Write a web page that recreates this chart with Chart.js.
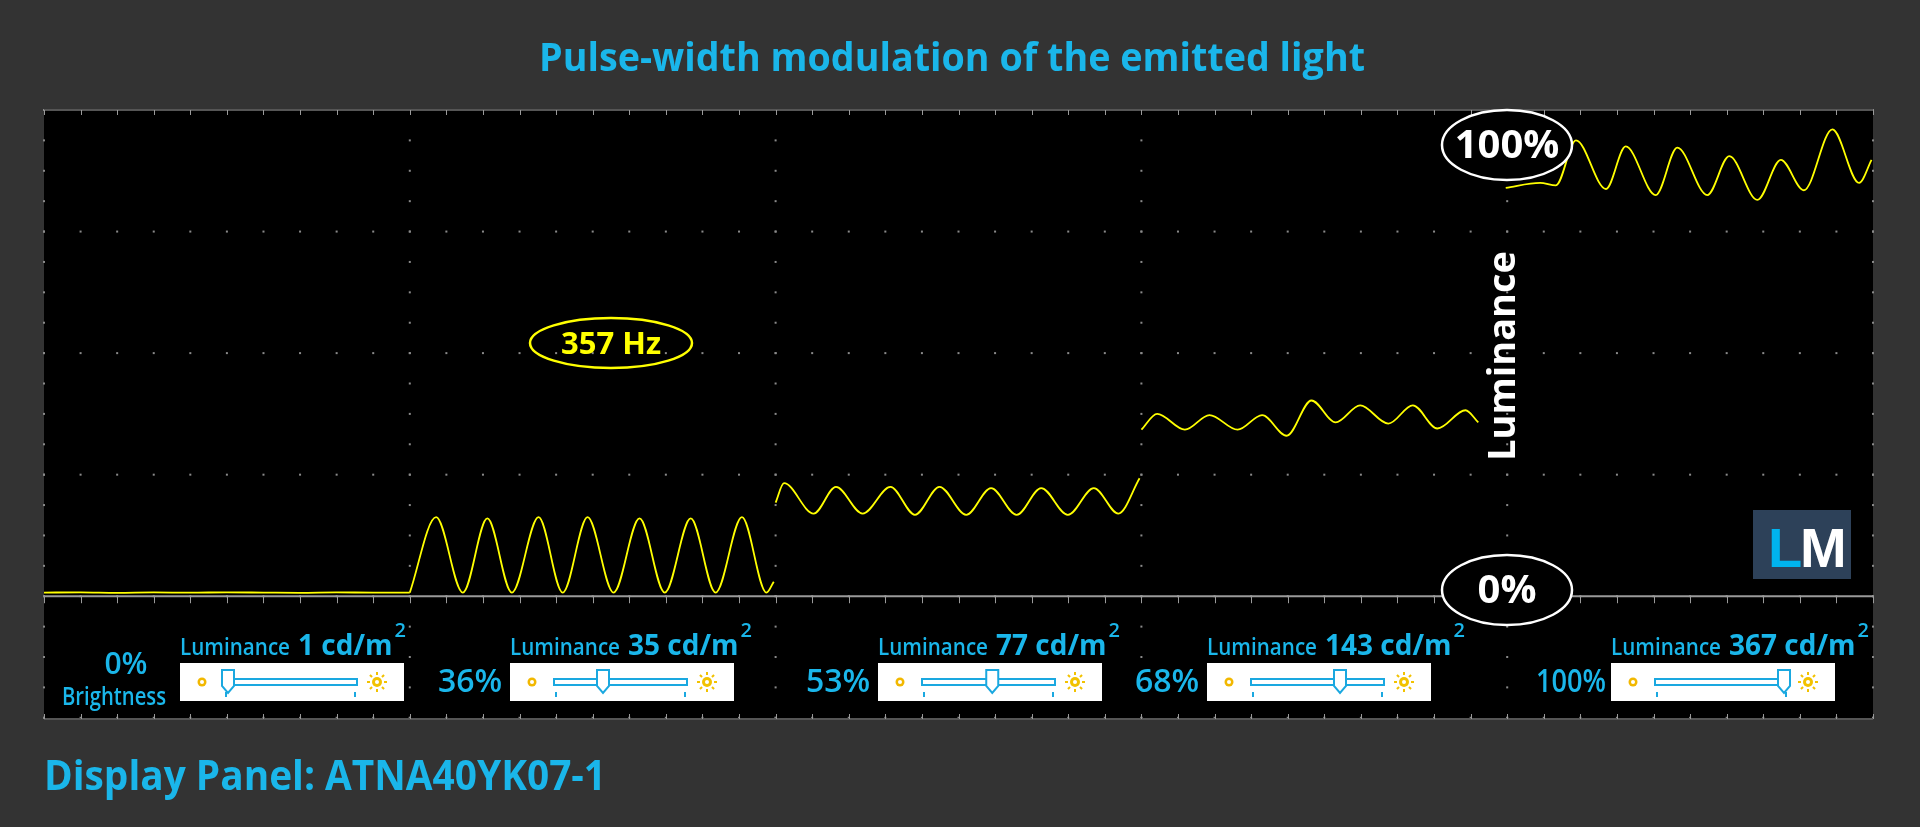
<!DOCTYPE html>
<html><head><meta charset="utf-8">
<script src="https://cdn.jsdelivr.net/npm/chart.js@4.4.1/dist/chart.umd.min.js"></script>
<style>html,body{margin:0;padding:0;background:#333333;}canvas{display:block;}</style>
</head><body>
<div style="width:1920px;height:827px;position:relative"><canvas id="c" width="1920" height="827"></canvas></div>
<script>
// ---- data (x in horizontal divisions, y in vertical divisions; 0 = 0% luminance) ----
const seg1 = [[0,0.03],[0.1,0.032],[0.2,0.028],[0.3,0.031],[0.4,0.029],[0.5,0.032],[0.6,0.03],[0.7,0.028],[0.8,0.031],[0.9,0.03],[1.0,0.03]];
const seg2 = [[1.0,0.03],[1.072,0.65],[1.145,0.03],[1.212,0.64],[1.279,0.03],[1.352,0.65],[1.418,0.03],[1.486,0.65],[1.557,0.03],[1.628,0.64],[1.697,0.03],[1.768,0.64],[1.836,0.03],[1.908,0.65],[1.975,0.03],[1.995,0.12]];
const seg3 = [[2.0,0.77],[2.023,0.93],[2.104,0.68],[2.165,0.90],[2.238,0.68],[2.314,0.90],[2.381,0.67],[2.448,0.90],[2.521,0.67],[2.589,0.89],[2.659,0.67],[2.726,0.89],[2.799,0.67],[2.870,0.89],[2.937,0.68],[2.995,0.97]];
const seg4 = [[3.0,1.37],[3.043,1.50],[3.119,1.37],[3.186,1.49],[3.263,1.37],[3.330,1.49],[3.397,1.32],[3.465,1.61],[3.531,1.43],[3.598,1.57],[3.675,1.42],[3.742,1.57],[3.809,1.38],[3.886,1.53],[3.921,1.43]];
const seg5 = [[3.996,3.36],[4.09,3.40],[4.133,3.38],[4.188,3.75],[4.27,3.35],[4.324,3.70],[4.406,3.30],[4.465,3.69],[4.547,3.30],[4.607,3.62],[4.684,3.26],[4.748,3.59],[4.811,3.34],[4.889,3.84],[4.962,3.40],[4.996,3.59]];
const brightnessLabels = ['0%','36%','53%','68%','100%'];
const luminanceValues = ['1','35','77','143','367'];
const sliderFractions = [0,0.36,0.53,0.68,1.0];
const freqLabel = '357 Hz';
const titleText = 'Pulse-width modulation of the emitted light';
const panelText = 'Display Panel: ATNA40YK07-1';

const CYAN = '#1ab6ea', YEL = '#ffff00';
const FONT = '"Open Sans", "Noto Sans", sans-serif';

function ds(arr){return {data:arr.map(p=>({x:p[0],y:p[1]})),borderColor:YEL,borderWidth:1.8,pointRadius:0,cubicInterpolationMode:'monotone',fill:false};}

const bgPlugin = {
  id:'bg',
  beforeDraw(chart){
    const {ctx, chartArea:a, scales:{x,y}} = chart;
    ctx.save();
    ctx.fillStyle='#333333'; ctx.fillRect(0,0,chart.width,chart.height);
    ctx.fillStyle='#000'; ctx.fillRect(a.left,a.top,a.right-a.left,a.bottom-a.top);
    ctx.fillStyle='#8a8a8a';
    for(let i=0;i<=5;i++){ const px=x.getPixelForValue(i);
      for(let v=-1;v<=4.001;v+=0.25){ const py=y.getPixelForValue(v); if(py>=a.top&&py<=a.bottom) ctx.fillRect(px-1,py-1,2,2);} }
    for(let j=-1;j<=4;j++){ const py=y.getPixelForValue(j);
      for(let u=0;u<=5.001;u+=0.1){ ctx.fillRect(x.getPixelForValue(u)-1,py-1,2,2);} }
    const y0=y.getPixelForValue(0);
    ctx.strokeStyle='#9a9a9a'; ctx.lineWidth=2;
    ctx.beginPath(); ctx.moveTo(a.left,y0); ctx.lineTo(a.right,y0); ctx.stroke();
    ctx.strokeStyle='#555';
    ctx.beginPath(); ctx.moveTo(a.left,a.bottom); ctx.lineTo(a.right,a.bottom); ctx.stroke();
    ctx.beginPath(); ctx.moveTo(a.left,a.top); ctx.lineTo(a.right,a.top); ctx.stroke();
    ctx.strokeStyle='#9a9a9a'; ctx.lineWidth=1;
    for(let u=0;u<=5.001;u+=0.1){ const px=Math.round(x.getPixelForValue(u))+0.5;
      ctx.beginPath(); ctx.moveTo(px,y0); ctx.lineTo(px,y0+7); ctx.stroke();
      ctx.beginPath(); ctx.moveTo(px,a.top); ctx.lineTo(px,a.top+5); ctx.stroke();
      ctx.beginPath(); ctx.moveTo(px,a.bottom); ctx.lineTo(px,a.bottom-5); ctx.stroke(); }
    ctx.restore();
  },
  afterDraw(chart){
    const {ctx} = chart;
    ctx.save();
    ctx.fillStyle=CYAN; ctx.textAlign='center'; ctx.textBaseline='middle';
    ctx.font='bold 40px '+FONT; ctx.fillText(titleText,952,60,826);
    function ell(cx,cy,rx,ry,stroke,text,color,font,fillBlack){
      ctx.beginPath(); ctx.ellipse(cx,cy,rx,ry,0,0,Math.PI*2);
      if(fillBlack){ctx.fillStyle='#000';ctx.fill();}
      ctx.strokeStyle=stroke; ctx.lineWidth=2.5; ctx.stroke();
      ctx.fillStyle=color; ctx.font=font; ctx.textAlign='center'; ctx.textBaseline='middle'; ctx.fillText(text,cx,cy+2);
    }
    ell(611,343,81,25,YEL,freqLabel,YEL,'bold 31px '+FONT,false);
    ell(1507,145,65,35,'#fff','100%','#fff','bold 40px '+FONT,true);
    ell(1507,590,65,35,'#fff','0%','#fff','bold 40px '+FONT,true);
    ctx.save(); ctx.translate(1504,356); ctx.rotate(-Math.PI/2);
    ctx.fillStyle='#fff'; ctx.font='bold 38px '+FONT; ctx.textAlign='center'; ctx.textBaseline='middle';
    ctx.fillText('Luminance',0,0,210); ctx.restore();
    ctx.fillStyle='#2d4159'; ctx.fillRect(1753,510,98,69);
    ctx.font='bold 56px "Liberation Sans", Arial, sans-serif'; ctx.textAlign='left'; ctx.textBaseline='alphabetic';
    ctx.fillStyle='#00b4ef'; ctx.fillText('L',1768,567);
    ctx.fillStyle='#fff'; ctx.fillText('M',1800,567);
    const boxL=[180,510,878,1207,1611], bw=224, by=663, bh=38, cy=by+19;
    for(let i=0;i<5;i++){
      const bx=boxL[i];
      ctx.fillStyle='#fff'; ctx.fillRect(bx,by,bw,bh);
      ctx.fillStyle='#f2b800'; ctx.beginPath(); ctx.arc(bx+22,cy,4.5,0,Math.PI*2); ctx.fill();
      ctx.fillStyle='#fff'; ctx.beginPath(); ctx.arc(bx+22,cy,2,0,Math.PI*2); ctx.fill();
      const t0=bx+44, t1=bx+177;
      ctx.strokeStyle='#1aa8e0'; ctx.lineWidth=2;
      ctx.strokeRect(t0,cy-3,t1-t0,6);
      ctx.beginPath(); ctx.moveTo(t0+2,cy+10); ctx.lineTo(t0+2,cy+15); ctx.moveTo(t1-2,cy+10); ctx.lineTo(t1-2,cy+15); ctx.stroke();
      const tx=t0+4+sliderFractions[i]*(t1-t0-8);
      ctx.fillStyle='#fff'; ctx.beginPath();
      ctx.moveTo(tx-6,cy-12); ctx.lineTo(tx+6,cy-12); ctx.lineTo(tx+6,cy+4); ctx.lineTo(tx,cy+11); ctx.lineTo(tx-6,cy+4); ctx.closePath();
      ctx.fill(); ctx.stroke();
      const sx=bx+197; ctx.fillStyle='#f2c200'; ctx.strokeStyle='#f2c200'; ctx.lineWidth=2;
      ctx.beginPath(); ctx.arc(sx,cy,5,0,Math.PI*2); ctx.fill();
      for(let k=0;k<8;k++){const an=k*Math.PI/4; ctx.beginPath(); ctx.moveTo(sx+Math.cos(an)*7,cy+Math.sin(an)*7); ctx.lineTo(sx+Math.cos(an)*10,cy+Math.sin(an)*10); ctx.stroke();}
      ctx.fillStyle='#fff'; ctx.beginPath(); ctx.arc(sx,cy,2,0,Math.PI*2); ctx.fill();
      ctx.fillStyle=CYAN; ctx.textAlign='left'; ctx.textBaseline='alphabetic';
      ctx.font='600 23px '+FONT; let lx=bx; ctx.fillText('Luminance',lx,655,110); lx+=Math.min(ctx.measureText('Luminance').width,110)+8;
      ctx.font='bold 28px '+FONT; const vt=luminanceValues[i]+' cd/m'; ctx.fillText(vt,lx,655); lx+=ctx.measureText(vt).width+2;
      ctx.font='600 20px '+FONT; ctx.fillText('2',lx,637);
      ctx.textAlign='center'; ctx.textBaseline='middle';
      if(i===0){ ctx.font='600 30px '+FONT; ctx.fillText(brightnessLabels[i],126,665); ctx.font='600 25px '+FONT; ctx.fillText('Brightness',114,698,104); }
      else { ctx.font='600 32px '+FONT; ctx.fillText(brightnessLabels[i],bx-40,683,70); }
    }
    ctx.fillStyle=CYAN; ctx.textAlign='left'; ctx.textBaseline='alphabetic'; ctx.font='bold 42px '+FONT;
    ctx.fillText(panelText,44,790,562);
    ctx.restore();
  }
};

new Chart(document.getElementById('c'),{
  type:'line',
  data:{datasets:[ds(seg1),ds(seg2),ds(seg3),ds(seg4),ds(seg5)]},
  options:{responsive:false,animation:false,
    layout:{padding:{left:44,right:47,top:110,bottom:108}},
    plugins:{legend:{display:false},tooltip:{enabled:false}},
    scales:{x:{type:'linear',min:0,max:5,display:false},y:{type:'linear',min:-1.01,max:4,display:false}}
  },
  plugins:[bgPlugin]
});
</script>
</body></html>
